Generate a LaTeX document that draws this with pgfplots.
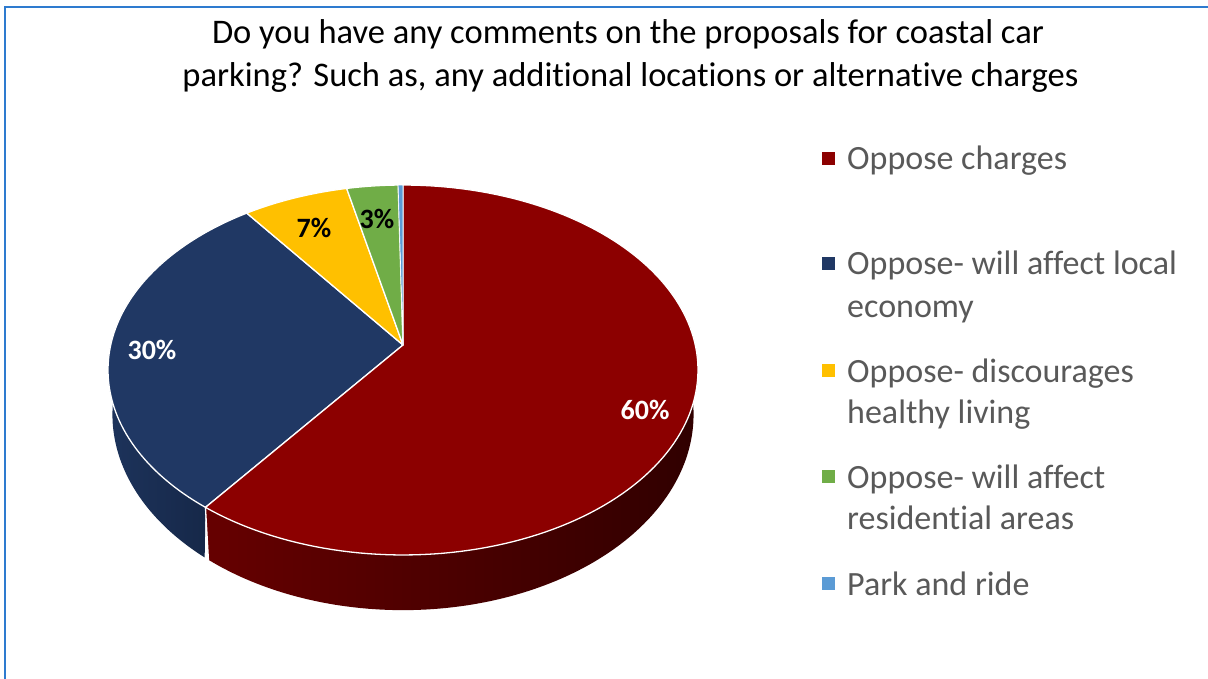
\documentclass[border=0pt]{standalone}
\usepackage{pgfplots}
\pgfplotsset{compat=1.18}
\usepackage{pgfplotstable}
\usepackage{fontspec}
\setmainfont{Carlito}[Ligatures=NoCommon]

\definecolor{cRed}{HTML}{8C0000}
\definecolor{cNavy}{HTML}{203864}
\definecolor{cYellow}{HTML}{FFC000}
\definecolor{cGreen}{HTML}{70AD47}
\definecolor{cBlue}{HTML}{5B9BD5}
\definecolor{sRedL}{HTML}{660000}
\definecolor{sRedR}{HTML}{300000}
\definecolor{sNavyL}{HTML}{1D335B}
\definecolor{sNavyR}{HTML}{162849}
\definecolor{legText}{HTML}{595959}
\definecolor{frameBlue}{HTML}{2E7BCF}

% share of each answer, percent
\pgfplotstableread{
idx value
1 60.3
2 29.6
3 6.6
4 3.2
5 0.3
}\piedata

\pgfplotstablegetelem{0}{value}\of\piedata \let\vA\pgfplotsretval
\pgfplotstablegetelem{1}{value}\of\piedata \let\vB\pgfplotsretval
\pgfplotstablegetelem{2}{value}\of\piedata \let\vC\pgfplotsretval
\pgfplotstablegetelem{3}{value}\of\piedata \let\vD\pgfplotsretval
\pgfplotstablegetelem{4}{value}\of\piedata \let\vE\pgfplotsretval
\pgfmathsetmacro\cA{90-3.6*\vA}
\pgfmathsetmacro\cB{\cA-3.6*\vB}
\pgfmathsetmacro\cC{\cB-3.6*\vC}
\pgfmathsetmacro\cD{\cC-3.6*\vD}
\pgfmathsetmacro\cE{\cD-3.6*\vE}
\pgfmathsetmacro\cAm{\cA+360}
\pgfmathsetmacro\cBm{\cB+360}
\pgfmathsetmacro\cCm{\cC+360}
\pgfmathsetmacro\cDm{\cD+360}
\pgfmathsetmacro\cEm{\cE+360}
% side wall angle ranges
\pgfmathsetmacro\rA{\cA}\pgfmathsetmacro\rB{10}
\pgfmathsetmacro\nA{-200}\pgfmathsetmacro\nB{\cA}

\begin{document}
\begin{tikzpicture}[declare function={
  px(\t)=403+292.3*cos(\t)/(1+0.1351*sin(\t));
  py(\t)=345-181.6*sin(\t)/(1+0.1351*sin(\t));
  qx(\t)=403+0.985*(px(\t)-403);
  qy(\t)=388+1.058*(py(\t)-345);
}]
\useasboundingbox (0,0) rectangle (1208pt,679pt);
\begin{axis}[at={(0,0)}, anchor=south west, width=1208pt, height=679pt,
  scale only axis, xmin=0, xmax=1208, ymin=0, ymax=679, y dir=reverse,
  hide axis, clip=false]

% frame
\draw[frameBlue, line width=2pt] (axis cs:5,679) -- (axis cs:5,7) -- (axis cs:1208,7);

% side walls: top rim forward (t in [0,1]), bottom rim backward (t in [1,2])
\addplot[left color=sRedL, right color=sRedR, draw=none, domain=0:2, samples=241]
  ({ifthenelse(x<=1, px((\rA)+((\rB)-(\rA))*x), qx((\rB)-((\rB)-(\rA))*(x-1)))},
   {ifthenelse(x<=1, py((\rA)+((\rB)-(\rA))*x), qy((\rB)-((\rB)-(\rA))*(x-1)))}) -- cycle;
\addplot[left color=sNavyL, right color=sNavyR, draw=none, domain=0:2, samples=161]
  ({ifthenelse(x<=1, px((\nA)+((\nB)-(\nA))*x), qx((\nB)-((\nB)-(\nA))*(x-1)))},
   {ifthenelse(x<=1, py((\nA)+((\nB)-(\nA))*x), qy((\nB)-((\nB)-(\nA))*(x-1)))}) -- cycle;

\addplot[white, line width=1.3pt, domain=0:1, samples=2]
  ({px(\cA)+(qx(\cA)-px(\cA))*x}, {py(\cA)+(qy(\cA)-py(\cA))*x});

% top faces
\addplot[fill=cNavy, draw=white, line width=1.3pt, line join=round, domain=\cBm:\cAm, samples=80]
  ({px(x)},{py(x)}) -- (axis cs:403,345) -- cycle;
\addplot[fill=cRed, draw=white, line width=1.3pt, line join=round, domain=\cA:90, samples=140]
  ({px(x)},{py(x)}) -- (axis cs:403,345) -- cycle;
\addplot[fill=cYellow, draw=white, line width=1.3pt, line join=round, domain=\cCm:\cBm, samples=30]
  ({px(x)},{py(x)}) -- (axis cs:403,345) -- cycle;
\addplot[fill=cGreen, draw=white, line width=1.3pt, line join=round, domain=\cDm:\cCm, samples=20]
  ({px(x)},{py(x)}) -- (axis cs:403,345) -- cycle;
\addplot[fill=cBlue, draw=white, line width=0.6pt, line join=round, domain=\cEm:\cDm, samples=5]
  ({px(x)},{py(x)}) -- (axis cs:403,345) -- cycle;

% data labels
\node[text=white, font=\fontsize{28}{32}\selectfont\bfseries] at (axis cs:645,410) {60\%};
\node[text=white, font=\fontsize{28}{32}\selectfont\bfseries] at (axis cs:152,350) {30\%};
\node[text=black, font=\fontsize{28}{32}\selectfont\bfseries] at (axis cs:314,228) {7\%};
\node[text=black, font=\fontsize{28}{32}\selectfont\bfseries] at (axis cs:377,219) {3\%};

% title
\node[anchor=base, font=\fontsize{34.5}{42}\selectfont, inner sep=0pt] at (axis cs:628,44)
  {Do you have any comments on the proposals for coastal car};
\node[anchor=base, font=\fontsize{34.5}{42}\selectfont, inner sep=0pt] at (axis cs:630.5,87)
  {parking? Such as, any additional locations or alternative charges};

% legend
\fill[cRed]    (axis cs:822,152) rectangle (axis cs:835,165);
\fill[cNavy]   (axis cs:822,257) rectangle (axis cs:835,270);
\fill[cYellow] (axis cs:822,364) rectangle (axis cs:835,377);
\fill[cGreen]  (axis cs:822,470) rectangle (axis cs:835,483);
\fill[cBlue]   (axis cs:822,577) rectangle (axis cs:835,590);
\begin{scope}[every node/.style={anchor=base west, inner sep=0pt, text=legText, font=\fontsize{34}{41}\selectfont}]
\node at (axis cs:847,170) {Oppose charges};
\node at (axis cs:847,275) {Oppose- will affect local};
\node at (axis cs:847,317) {economy};
\node at (axis cs:847,382) {Oppose- discourages};
\node at (axis cs:847,423) {healthy living};
\node at (axis cs:847,488) {Oppose- will affect};
\node at (axis cs:847,529) {residential areas};
\node at (axis cs:847,595) {Park and ride};
\end{scope}
\end{axis}
\end{tikzpicture}
\end{document}
